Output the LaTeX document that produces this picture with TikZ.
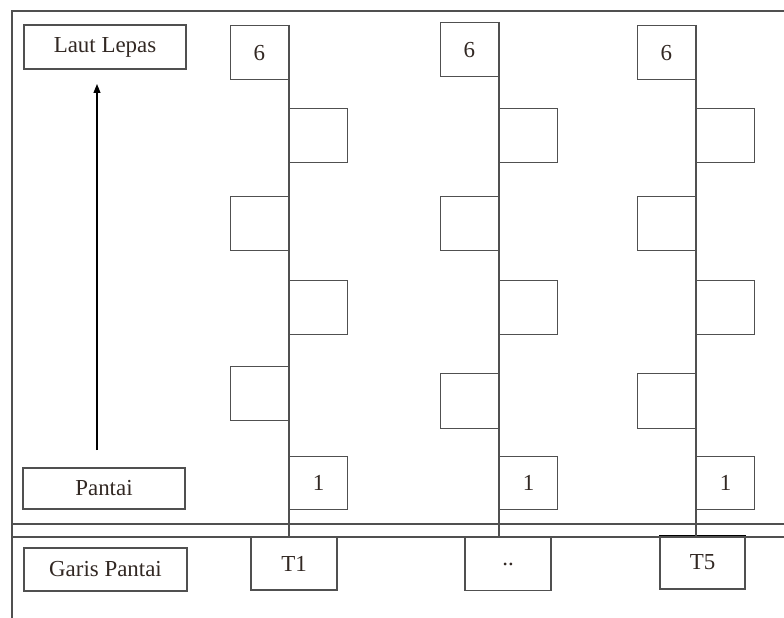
\documentclass[tikz,border=0pt]{standalone}
\usepackage{fontspec}
\setmainfont{Liberation Serif}
\usepackage{tikz}
\usetikzlibrary{positioning, arrows.meta, calc}
\definecolor{lineGray}{RGB}{80,80,80}
\definecolor{textDark}{RGB}{50,40,35}

\begin{document}
\begin{tikzpicture}[
    x=1bp, y=-1bp,
    line width=1.1bp, draw=lineGray,
    cell/.style={rectangle, draw=lineGray, line width=1.2bp, minimum width=58bp, minimum height=54bp, inner sep=0pt, text=textDark, font=\fontsize{23}{27}\selectfont},
    tag/.style={rectangle, draw=lineGray, line width=1.2bp, minimum width=162bp, minimum height=43bp, inner sep=0pt, text=textDark, font=\fontsize{23}{27}\selectfont},
    trans/.style={rectangle, draw=lineGray, line width=1.2bp, minimum width=86bp, minimum height=53bp, inner sep=0pt, text=textDark, font=\fontsize{23}{27}\selectfont},
    arrow/.style={-{Triangle[length=9bp, width=7bp]}, line width=1.1bp, draw=black}
]
\useasboundingbox (0,0) rectangle (784,618);

% Frame and coast lines
\coordinate (fb) at (12,618);
\coordinate (ft) at (12,11);
\coordinate (fr) at (784,11);
\coordinate (gu) at (12,524);
\coordinate (gl) at (12,537);
\draw[lineGray] (fb) -- (ft) -- (fr);
\draw[lineGray] (gu) -- (gu -| fr);
\draw[lineGray] (gl) -- (gl -| fr);

% Labels on the left
\node[tag, minimum height=44bp] (laut) at (105,47) {Laut Lepas};
\node[tag, minimum height=41bp] (pantai) at (104,488.5) {Pantai};
\node[tag, minimum width=163bp] (garis) at (105.5,569.5) {Garis Pantai};
\coordinate (up0) at (97,450);
\coordinate (up1) at (97,84);
\draw[arrow] (up0) -- (up1);

% Transect T1
\node[cell, anchor=north east] (a6) at (289,25) {6};
\node[cell, anchor=north west] (a5) at (289,108) {};
\node[cell, anchor=north east] (a4) at (289,196) {};
\node[cell, anchor=north west] (a3) at (289,280) {};
\node[cell, anchor=north east] (a2) at (289,366) {};
\node[cell, anchor=north west, minimum height=53bp] (a1) at (289,456) {1};
\node[trans] (t1) at (294,563.5) {T1};
\draw[lineGray] (a6.north east) -- (a6.north east |- gl);

% Transect ..
\node[cell, anchor=north east] (b6) at (499,22) {6};
\node[cell, anchor=north west] (b5) at (499,108) {};
\node[cell, anchor=north east] (b4) at (499,196) {};
\node[cell, anchor=north west] (b3) at (499,280) {};
\node[cell, anchor=north east, minimum height=55bp] (b2) at (499,373) {};
\node[cell, anchor=north west, minimum height=53bp] (b1) at (499,456) {1};
\node[trans] (tm) at (508,564) {..};
\draw[lineGray] (b6.north east) -- (b6.north east |- gl);

% Transect T5
\node[cell, anchor=north east] (c6) at (696,25) {6};
\node[cell, anchor=north west] (c5) at (696,108) {};
\node[cell, anchor=north east] (c4) at (696,196) {};
\node[cell, anchor=north west] (c3) at (696,280) {};
\node[cell, anchor=north east, minimum height=55bp] (c2) at (696,373) {};
\node[cell, anchor=north west, minimum height=53bp] (c1) at (696,456) {1};
\node[trans, minimum width=85bp] (t5) at (702.5,562.5) {T5};
\draw[black, line width=1.4bp] (t5.north west) -- (t5.north east);
\draw[lineGray] (c6.north east) -- (c6.north east |- gl);
\end{tikzpicture}
\end{document}
